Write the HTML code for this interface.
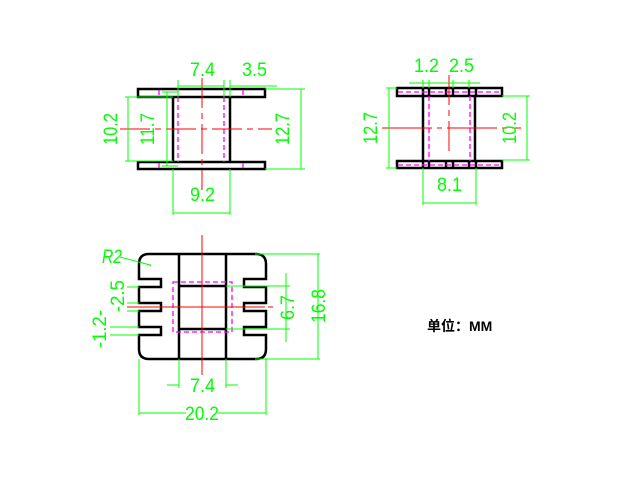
<!DOCTYPE html>
<html><head><meta charset="utf-8"><style>html,body{margin:0;padding:0;background:#fff}svg{display:block}
.g{fill:#00ff00;font-family:"Liberation Sans Narrow","Liberation Sans",sans-serif;font-size:19px}
</style></head><body>
<svg width="640" height="480" viewBox="0 0 640 480" xmlns="http://www.w3.org/2000/svg">
<rect width="640" height="480" fill="#fff"/>
<!-- VIEW 1 -->
<g fill="none" stroke="#000" stroke-width="2.5">
<path d="M138,89 H265 V97 H138 Z"/>
<path d="M138,162 H265 V169 H138 Z"/>
<path d="M173,97 V162 M230,97 V162"/>
</g>
<g stroke="#ff00ff" stroke-width="1.3" stroke-dasharray="5,3">
<path d="M178,97 V162 M224,97 V162 M159,90 V96 M243,90 V96 M159,163 V168 M243,163 V168"/>
</g>
<g stroke="#ff0000" stroke-width="1">
<path d="M120,129 H272" stroke-dasharray="30,5,6,5"/>
<path d="M202,78 V190" stroke-dasharray="30,5,6,5"/>
</g>
<g stroke="#00ff00" stroke-width="1" fill="none">
<path d="M178,86 H224 M178,80 V97 M224,80 V97"/>
<path d="M230,86 H277 M230,80 V97"/>
<path d="M128,97 V161 M125,97 H173 M125,161 H173"/>
<path d="M167,92 V166 M162,92 H178 M162,166 H178"/>
<path d="M301,89 V169 M265,89 H305 M265,169 H305"/>
<path d="M173,213 H230 M173,169 V215 M230,169 V215"/>
</g>
<text class="g" x="190" y="76" textLength="25" lengthAdjust="spacingAndGlyphs">7.4</text>
<text class="g" x="242" y="76" textLength="25" lengthAdjust="spacingAndGlyphs">3.5</text>
<text class="g" x="190" y="201" textLength="25" lengthAdjust="spacingAndGlyphs">9.2</text>
<text class="g" transform="translate(117,145) rotate(-90)" textLength="32" lengthAdjust="spacingAndGlyphs">10.2</text>
<text class="g" transform="translate(154,145) rotate(-90)" textLength="32" lengthAdjust="spacingAndGlyphs">11.7</text>
<text class="g" transform="translate(289,145) rotate(-90)" textLength="32" lengthAdjust="spacingAndGlyphs">12.7</text>
<!-- VIEW 2 -->
<g fill="none" stroke="#000" stroke-width="2.5">
<path d="M397,88 H502 V96 H397 Z"/>
<path d="M397,161 H502 V168 H397 Z"/>
<path d="M423,96 V161 M475,96 V161"/>
<path d="M423,88 V96 M429,88 V96 M446,88 V96 M453,88 V96 M469,88 V96 M476,88 V96"/>
<path d="M423,161 V168 M429,161 V168 M446,161 V168 M453,161 V168 M469,161 V168 M476,161 V168"/>
</g>
<g stroke="#ff00ff" stroke-width="1.3" stroke-dasharray="5,3">
<path d="M398,92 H501 M398,165 H501 M429,96 V161 M470,96 V161"/>
</g>
<g stroke="#ff0000" stroke-width="1">
<path d="M382,128 H521" stroke-dasharray="50,5,5,5"/>
<path d="M449,75 V153" stroke-dasharray="30,5,6,5"/>
</g>
<g stroke="#00ff00" stroke-width="1" fill="none">
<path d="M409,83 H480 M423,80 V88 M429,80 V88 M453,80 V88 M469,80 V88"/>
<path d="M389,88 V168 M386,88 H397 M386,168 H397"/>
<path d="M527,96 V160 M502,96 H530 M502,160 H530"/>
<path d="M423,203 H476 M423,168 V205 M476,168 V205"/>
</g>
<text class="g" x="414" y="72" textLength="25" lengthAdjust="spacingAndGlyphs">1.2</text>
<text class="g" x="449" y="72" textLength="25" lengthAdjust="spacingAndGlyphs">2.5</text>
<text class="g" x="437" y="191" textLength="25" lengthAdjust="spacingAndGlyphs">8.1</text>
<text class="g" transform="translate(377,144) rotate(-90)" textLength="32" lengthAdjust="spacingAndGlyphs">12.7</text>
<text class="g" transform="translate(516,144) rotate(-90)" textLength="32" lengthAdjust="spacingAndGlyphs">10.2</text>
<!-- VIEW 3 -->
<g fill="none" stroke="#000" stroke-width="2.5">
<path d="M149,254 H256 Q266,254 266,264 V279 H244 V287 H266 V303 H244 V311 H266 V327 H244 V335 H266 V349 Q266,359 256,359 H149 Q139,359 139,349 V335 H161 V327 H139 V311 H161 V303 H139 V287 H161 V279 H139 V264 Q139,254 149,254 Z"/>
<path d="M179,254 V359 M226,254 V359 M179,286 H226 M179,329 H226"/>
</g>
<rect x="173" y="282" width="59" height="50" fill="none" stroke="#ff00ff" stroke-width="1.3" stroke-dasharray="5,3"/>
<g stroke="#ff0000" stroke-width="1">
<path d="M202,235 V375"/>
<path d="M127,307 H265 M268,307 H273"/>
</g>
<g stroke="#00ff00" stroke-width="1" fill="none">
<path d="M120,257 L150,265 L151,266 L150,265 L151,266"/>
<path d="M150,265 L151,266"/>
<path d="M127,287 H139 M127,303 H139 M127,311 H139 M110,327 H139 M110,335 H139"/>
<path d="M286,273 V342 M226,286 H290 M226,329 H290"/>
<path d="M318,254 V359 M255,254 H320 M255,359 H320"/>
<path d="M179,359 V388 M226,359 V388 M167,385 H179 M226,385 H238"/>
<path d="M139,359 V415 M266,359 V415 M139,413 H186 M218,413 H266"/>
</g>
<text class="g" x="102" y="263" style="font-style:italic" textLength="20" lengthAdjust="spacingAndGlyphs">R2</text>
<text class="g" transform="translate(124,312) rotate(-90)" textLength="32" lengthAdjust="spacingAndGlyphs">-2.5</text>
<text class="g" transform="translate(106,348) rotate(-90)" textLength="38" lengthAdjust="spacingAndGlyphs">-1.2-</text>
<text class="g" transform="translate(294,320) rotate(-90)" textLength="25" lengthAdjust="spacingAndGlyphs">6.7</text>
<text class="g" transform="translate(325,323) rotate(-90)" textLength="34" lengthAdjust="spacingAndGlyphs">16.8</text>
<text class="g" x="190" y="392" textLength="25" lengthAdjust="spacingAndGlyphs">7.4</text>
<text class="g" x="185" y="420" textLength="34" lengthAdjust="spacingAndGlyphs">20.2</text>
<text x="427" y="331" style="font-family:'Liberation Sans','Noto Sans CJK SC',sans-serif;font-size:14px;font-weight:bold" fill="#000">单位：MM</text>
</svg>
</body></html>
